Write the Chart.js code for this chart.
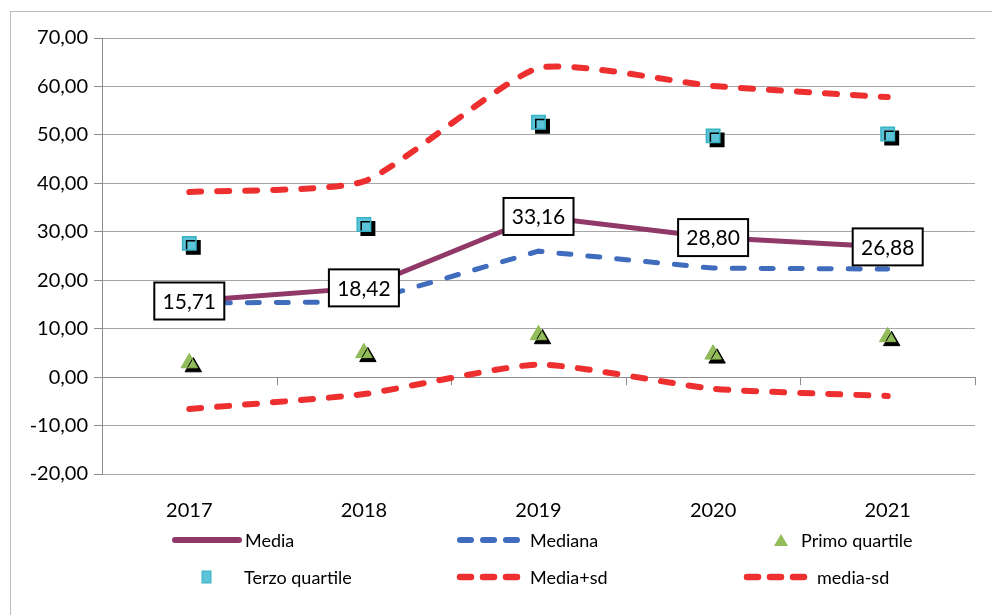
<!DOCTYPE html>
<html>
<head>
<meta charset="utf-8">
<script src="https://cdn.jsdelivr.net/npm/chart.js@4"></script>
<style>
  body { margin: 0; background: #fff; font-family: Lato, sans-serif; overflow: hidden; }
  #wrap { position: relative; width: 992px; height: 615px; overflow: hidden; }
  #frame { position: absolute; left: 10px; top: 11px; width: 1000px; height: 620px; border: 1px solid #bdbdbd; box-sizing: border-box; }
  canvas { position: absolute; left: 0; top: 0; }
  .leg { position: absolute; font-size: 18px; color: #000; display: flex; align-items: center; white-space: nowrap; }
  .leg svg { display: block; }
</style>
</head>
<body>
<div id="wrap">
  <div id="frame"></div>
  <canvas id="grafico" width="992" height="615"></canvas>
  <div id="legenda"></div>
</div>
<script>
// dati
var anni = ['2017', '2018', '2019', '2020', '2021'];
var media = [15.71, 18.42, 33.16, 28.80, 26.88];
var mediana = [15.3, 15.5, 26.0, 22.5, 22.3];
var primoQuartile = [2.9, 5.0, 8.7, 4.7, 8.3];
var terzoQuartile = [27.6, 31.5, 52.6, 49.8, 50.2];
var mediaPiuSd = [38.2, 40.4, 63.8, 60.1, 57.8];
var mediaMenoSd = [-6.6, -3.5, 2.6, -2.4, -3.9];
var yMin = -20, yMax = 70, yPasso = 10;

var rosso = '#ee2f2f';
var blu = '#3f6cbd';
var viola = '#903867';
var verde = '#93bc5a';
var azzurro = '#5cc3d8';

function virgola(v) {
    return v.toFixed(2).replace('.', ',');
}

// ombra nera sotto i marcatori dei quartili
var ombra = {
    id: 'ombra',
    beforeDatasetDraw: function (chart, args) {
        if (chart.data.datasets[args.index].ombra) {
            var ctx = chart.ctx;
            ctx.save();
            ctx.shadowColor = '#000';
            ctx.shadowOffsetX = 4;
            ctx.shadowOffsetY = 4;
            ctx.shadowBlur = 0;
        }
    },
    afterDatasetDraw: function (chart, args) {
        if (chart.data.datasets[args.index].ombra) chart.ctx.restore();
    }
};

// etichette riquadrate sulla media
var etichette = {
    id: 'etichette',
    afterDatasetsDraw: function (chart) {
        var ctx = chart.ctx;
        var meta = chart.getDatasetMeta(0);
        ctx.save();
        ctx.font = '21px Lato';
        ctx.textAlign = 'center';
        ctx.textBaseline = 'middle';
        meta.data.forEach(function (p, i) {
            var w = 70, h = 37;
            ctx.fillStyle = '#fff';
            ctx.fillRect(p.x - w / 2, p.y - h / 2, w, h);
            ctx.lineWidth = 2;
            ctx.strokeStyle = '#000';
            ctx.strokeRect(p.x - w / 2, p.y - h / 2, w, h);
            ctx.fillStyle = '#000';
            ctx.fillText(virgola(media[i]), p.x, p.y + 1);
        });
        ctx.restore();
    }
};

// tacche dell'asse orizzontale sulla linea dello zero
var tacche = {
    id: 'tacche',
    beforeDatasetsDraw: function (chart) {
        var x = chart.scales.x, y = chart.scales.y;
        var y0 = y.getPixelForValue(0);
        var ctx = chart.ctx;
        ctx.save();
        ctx.strokeStyle = '#8c8c8c';
        ctx.lineWidth = 1;
        ctx.beginPath();
        for (var i = 0; i <= anni.length; i++) {
            var px;
            if (i == 0) px = chart.chartArea.left;
            else if (i == anni.length) px = chart.chartArea.right;
            else px = (x.getPixelForValue(i - 1) + x.getPixelForValue(i)) / 2;
            px = Math.round(px) + 0.5;
            ctx.moveTo(px, y0);
            ctx.lineTo(px, y0 + 8);
        }
        ctx.moveTo(chart.chartArea.left, Math.round(y0) + 0.5);
        ctx.lineTo(chart.chartArea.right, Math.round(y0) + 0.5);
        ctx.stroke();
        ctx.restore();
    }
};

var ctx = document.getElementById('grafico').getContext('2d');
var myChart = new Chart(ctx, {
    type: 'line',
    data: {
        labels: anni,
        datasets: [{
            label: 'Media',
            data: media,
            borderColor: viola,
            borderWidth: 5,
            pointRadius: 0,
            tension: 0,
            order: 1
        }, {
            label: 'Mediana',
            data: mediana,
            borderColor: blu,
            borderWidth: 5,
            borderDash: [12, 17],
            borderCapStyle: 'round',
            pointRadius: 0,
            tension: 0,
            order: 2
        }, {
            label: 'Primo quartile',
            data: primoQuartile,
            showLine: false,
            pointStyle: 'triangle',
            pointRadius: 9.5,
            backgroundColor: verde,
            borderColor: '#8ab54f',
            borderWidth: 1,
            ombra: true,
            order: 3
        }, {
            label: 'Terzo quartile',
            data: terzoQuartile,
            showLine: false,
            pointStyle: 'rect',
            pointRadius: 9.5,
            backgroundColor: azzurro,
            borderColor: '#38b3c4',
            borderWidth: 1.5,
            ombra: true,
            order: 4
        }, {
            label: 'Media+sd',
            data: mediaPiuSd,
            borderColor: rosso,
            borderWidth: 6,
            borderDash: [12, 16],
            borderCapStyle: 'round',
            pointRadius: 0,
            tension: 0.18,
            order: 5
        }, {
            label: 'media-sd',
            data: mediaMenoSd,
            borderColor: rosso,
            borderWidth: 6,
            borderDash: [12, 16],
            borderCapStyle: 'round',
            pointRadius: 0,
            tension: 0.18,
            order: 6
        }]
    },
    options: {
        responsive: false,
        animation: false,
        layout: { padding: { top: 38, right: 17, left: 0, bottom: 0 } },
        plugins: {
            legend: { display: false },
            tooltip: { enabled: false }
        },
        scales: {
            x: {
                offset: true,
                grid: { display: false },
                border: { display: false },
                ticks: { color: '#000', font: { family: 'Lato', size: 20 }, padding: 17 },
                afterFit: function (s) { s.height = 141; }
            },
            y: {
                min: yMin,
                max: yMax,
                ticks: {
                    stepSize: yPasso,
                    color: '#000',
                    font: { family: 'Lato', size: 20 },
                    padding: 6,
                    callback: function (v) { return virgola(v); }
                },
                grid: { color: '#a6a6a6', lineWidth: 1, tickLength: 8, tickColor: '#8c8c8c' },
                border: { color: '#8c8c8c', width: 1 },
                afterFit: function (s) { s.width = 102; }
            }
        }
    },
    plugins: [tacche, ombra, etichette]
});

// legenda su due righe, tre colonne
var linea = function (col, dash, w) {
    return '<svg width="74" height="12"><line x1="5" y1="6" x2="69" y2="6" stroke="' + col +
        '" stroke-width="' + w + '" stroke-linecap="round"' + (dash ? ' stroke-dasharray="' + dash + '"' : '') + '/></svg>';
};
var voci = [
    { x: 170, y: 529, m: linea(viola, null, 6), t: 'Media', g: 1 },
    { x: 455, y: 529, m: linea(blu, '11,12', 6), t: 'Mediana', g: 1 },
    { x: 772, y: 529, m: '<svg width="18" height="14"><polygon points="9,1 16,13 2,13" fill="' + verde + '"/></svg>', t: 'Primo quartile', g: 11 },
    { x: 201, y: 566, m: '<svg width="12" height="14"><rect x="1" y="1" width="9" height="12" fill="' + azzurro + '" stroke="#38b3c4"/></svg>', t: 'Terzo quartile', g: 31 },
    { x: 455, y: 566, m: linea(rosso, '11,12', 6.5), t: 'Media+sd', g: 1 },
    { x: 742, y: 566, m: linea(rosso, '11,12', 6.5), t: 'media-sd', g: 1 }
];
var legenda = document.getElementById('legenda');
voci.forEach(function (v) {
    var d = document.createElement('div');
    d.className = 'leg';
    d.style.left = v.x + 'px';
    d.style.top = v.y + 'px';
    d.innerHTML = v.m + '<span style="margin-left:' + v.g + 'px">' + v.t + '</span>';
    legenda.appendChild(d);
});
</script>
</body>
</html>
